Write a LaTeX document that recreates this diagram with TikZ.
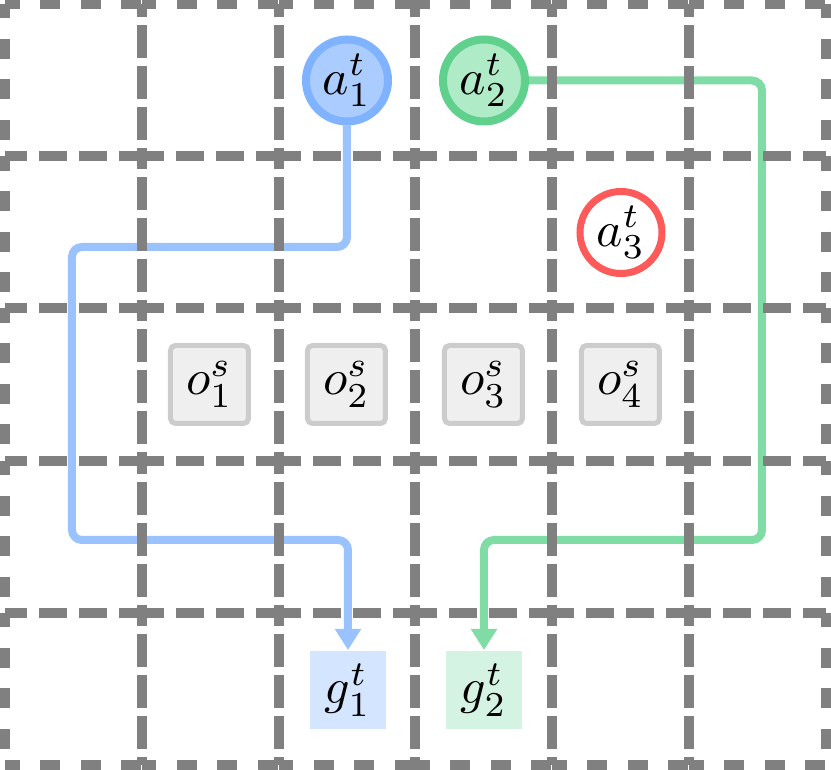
\documentclass[tikz,border=0pt]{standalone}
\usetikzlibrary{arrows.meta,backgrounds}
\definecolor{gridgray}{HTML}{808080}
\definecolor{blueS}{HTML}{80B3FF}
\definecolor{blueF}{HTML}{AACCFF}
\definecolor{blueP}{HTML}{99C2FF}
\definecolor{blueG}{HTML}{D4E5FF}
\definecolor{greenS}{HTML}{5FD18C}
\definecolor{greenF}{HTML}{B0EBC8}
\definecolor{greenP}{HTML}{80DCA5}
\definecolor{greenG}{HTML}{D5F3E2}
\definecolor{redS}{HTML}{FF5A5A}
\definecolor{obsF}{HTML}{EFEFEF}
\definecolor{obsS}{HTML}{CCCCCC}
\tikzset{
  hin/.style={draw=gridgray, line width=2pt, dash pattern=on 5.6pt off 2.4pt, dash phase=1.2pt},
  vin/.style={draw=gridgray, line width=2pt, dash pattern=on 6.6pt off 1.6pt, dash phase=4pt},
  outerln/.style={draw=gridgray, line width=2pt, dash pattern=on 4pt off 4.1pt, dash phase=1.1pt},
  agent/.style={circle, inner sep=0pt, minimum size=16.4pt, line width=1.6pt},
  obs/.style={rectangle, inner sep=0pt, minimum size=15.6pt, line width=1pt, rounded corners=1pt, draw=obsS, fill=obsF},
  goal/.style={rectangle, inner sep=0pt, minimum width=15.2pt, minimum height=15.6pt},
  route/.style={line width=1.6pt, rounded corners=2pt, -{Triangle[length=4.2pt,width=5pt]}}
}
\begin{document}
\begin{tikzpicture}[x=0.2pt,y=-0.2pt]
\useasboundingbox (0,0) rectangle (831,770);
% agents
\node[agent, draw=blueS, fill=blueF] (a1) at (347,80.5) {$a^t_1$};
\node[agent, draw=greenS, fill=greenF] (a2) at (484,80.5) {$a^t_2$};
\node[agent, draw=redS, fill=white, line width=1.4pt] (a3) at (621,232.5) {$a^t_3$};
% obstacles
\node[obs] (o1) at (209.5,384.5) {$o^s_1$};
\node[obs] (o2) at (346.5,384.5) {$o^s_2$};
\node[obs] (o3) at (483.5,384.5) {$o^s_3$};
\node[obs] (o4) at (620.5,384.5) {$o^s_4$};
% goals
\node[goal, fill=blueG] (g1) at (348,690) {$g^t_1$};
\node[goal, fill=greenG] (g2) at (484,690) {$g^t_2$};
\begin{scope}[on background layer]
  % routes
  \draw[route, draw=blueP] (a1.south) |- (72,247) -- (72,540) -| (g1.north);
  \draw[route, draw=greenP] (a2.east) -| (762,540) -| (g2.north);
  % grid
  \foreach \i in {0,...,5} {
    \foreach \j in {1,...,4} {
      \draw[hin] ({5+136.83*\i},{4+152.2*\j}) -- ({5+136.83*(\i+1)},{4+152.2*\j});
    }
    \draw[outerln] ({5+136.83*\i},4.5) -- ({5+136.83*(\i+1)},4.5);
    \draw[outerln] ({5+136.83*\i},765) -- ({5+136.83*(\i+1)},765);
  }
  \foreach \j in {0,...,4} {
    \foreach \i in {1,...,5} {
      \draw[vin] ({5+136.83*\i},{4+152.2*\j}) -- ({5+136.83*\i},{4+152.2*(\j+1)});
    }
    \draw[outerln] (5,{4+152.2*\j}) -- (5,{4+152.2*(\j+1)});
    \draw[outerln] (826.5,{4+152.2*\j}) -- (826.5,{4+152.2*(\j+1)});
  }
\end{scope}
\end{tikzpicture}
\end{document}
